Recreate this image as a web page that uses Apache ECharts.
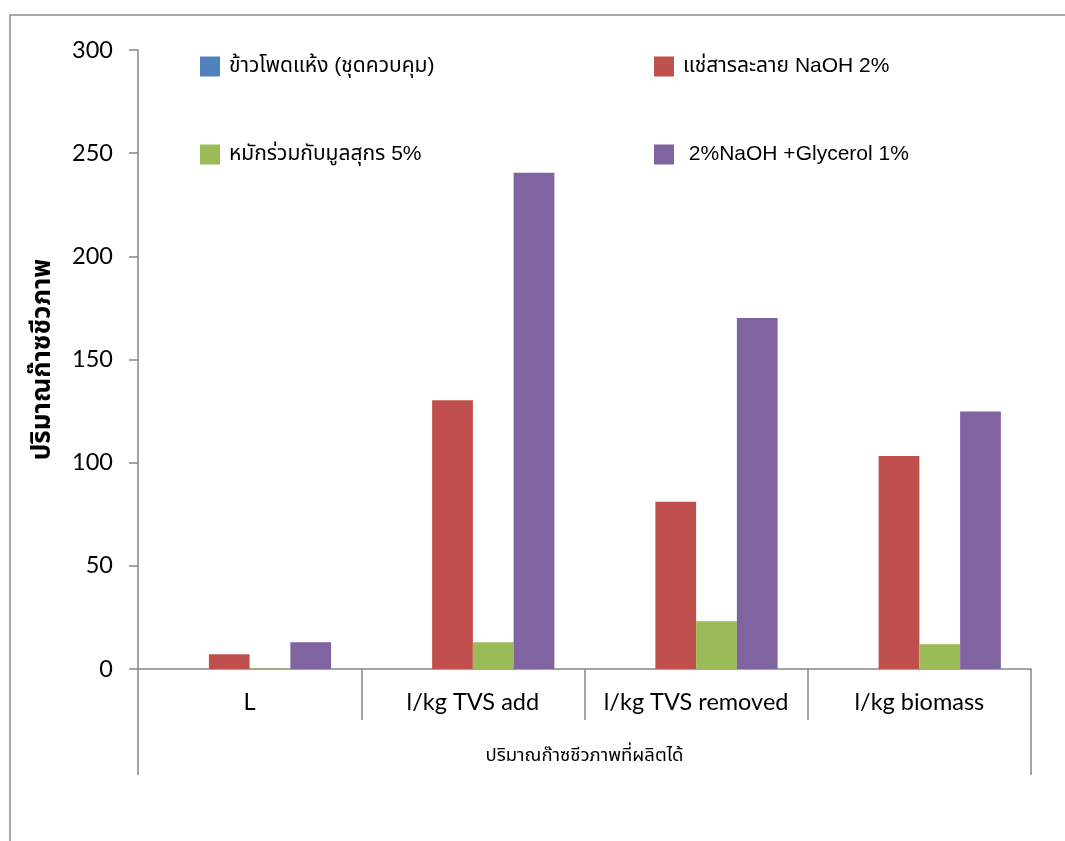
<!DOCTYPE html>
<html>
<head>
<meta charset="utf-8">
<script src="https://cdn.jsdelivr.net/npm/echarts@6/dist/echarts.min.js"></script>
<style>
  html, body { margin: 0; padding: 0; background: #ffffff; }
  #chart { width: 1065px; height: 841px; }
</style>
</head>
<body>
<div id="chart"></div>
<script>
// Biogas yield per treatment, grouped by unit of measure
const categories = ['L', 'l/kg TVS add', 'l/kg TVS removed', 'l/kg biomass'];
const groupLabel = 'ปริมาณก๊าซชีวภาพที่ผลิตได้';
const seriesNames = [
  'ข้าวโพดแห้ง (ชุดควบคุม)',
  'แช่สารละลาย NaOH 2%',
  'หมักร่วมกับมูลสุกร 5%',
  ' 2%NaOH +Glycerol 1%'
];
const controlValues = [0, 0, 0, 0];
const naohValues = [7.2, 130.3, 81, 103.2];
const manureValues = [0.3, 13, 23.2, 12];
const glycerolValues = [13, 240.5, 170.1, 124.8];
const yTicks = { min: 0, max: 300, interval: 50 };

const colors = ['#4F81BD', '#C0504D', '#9BBB59', '#8064A2'];
const thaiFont = '"Liberation Sans", "Noto Sans Thai", "Tahoma", sans-serif';
const numFont = 'Lato, "Open Sans", sans-serif';
const axisGrey = '#868686';

const valueSets = [controlValues, naohValues, manureValues, glycerolValues];

const legendPos = [
  { left: 200, top: 56 },
  { left: 654, top: 56 },
  { left: 200, top: 144 },
  { left: 654, top: 144 }
];

const chart = echarts.init(document.getElementById('chart'), null, { renderer: 'canvas' });

chart.setOption({
  animation: false,
  backgroundColor: '#ffffff',
  color: colors,
  grid: { left: 138, right: 34, top: 50, bottom: 172, containLabel: false },
  legend: seriesNames.map((name, i) => ({
    left: legendPos[i].left,
    top: legendPos[i].top,
    data: [name],
    itemWidth: 20,
    itemHeight: 20,
    itemGap: 0,
    padding: 0,
    icon: 'rect',
    selectedMode: false,
    textStyle: { fontFamily: thaiFont, fontSize: 21, color: '#000000', padding: [0, 0, 0, 4] }
  })),
  xAxis: [
    {
      type: 'category',
      data: categories,
      position: 'bottom',
      axisLine: { show: true, lineStyle: { color: axisGrey, width: 1.5 } },
      axisTick: { show: true, interval: 0, length: 51, lineStyle: { color: axisGrey, width: 1.5 } },
      axisLabel: { interval: 0, margin: 21, fontFamily: numFont, fontSize: 23.5, color: '#000000' },
      splitLine: { show: false }
    },
    {
      type: 'category',
      data: [groupLabel],
      position: 'bottom',
      axisLine: { show: false },
      axisTick: { show: true, interval: 0, length: 106, lineStyle: { color: axisGrey, width: 1.5 } },
      axisLabel: { interval: 0, margin: 77, fontFamily: thaiFont, fontSize: 18.5, color: '#000000' },
      splitLine: { show: false }
    }
  ],
  yAxis: {
    type: 'value',
    min: yTicks.min,
    max: yTicks.max,
    interval: yTicks.interval,
    name: 'ปริมาณก๊าซชีวภาพ',
    nameLocation: 'middle',
    nameGap: 82,
    nameRotate: 90,
    nameTextStyle: { fontFamily: thaiFont, fontSize: 26, fontWeight: 'bold', color: '#000000' },
    axisLine: { show: true, lineStyle: { color: axisGrey, width: 1.5 } },
    axisTick: { show: true, length: 9, inside: false, lineStyle: { color: axisGrey, width: 1.5 } },
    axisLabel: { margin: 25, fontFamily: numFont, fontSize: 23.5, color: '#000000' },
    splitLine: { show: false }
  },
  series: seriesNames.map((name, i) => ({
    name: name,
    type: 'bar',
    xAxisIndex: 0,
    data: valueSets[i],
    barGap: '0%',
    barCategoryGap: '27%',
    itemStyle: { color: colors[i] }
  })),
  graphic: [
    {
      type: 'polyline',
      shape: { points: [[10, 845], [10, 15], [1070, 15]] },
      style: { stroke: '#8c8c8c', lineWidth: 1.5, fill: null },
      silent: true
    }
  ]
});
</script>
</body>
</html>
